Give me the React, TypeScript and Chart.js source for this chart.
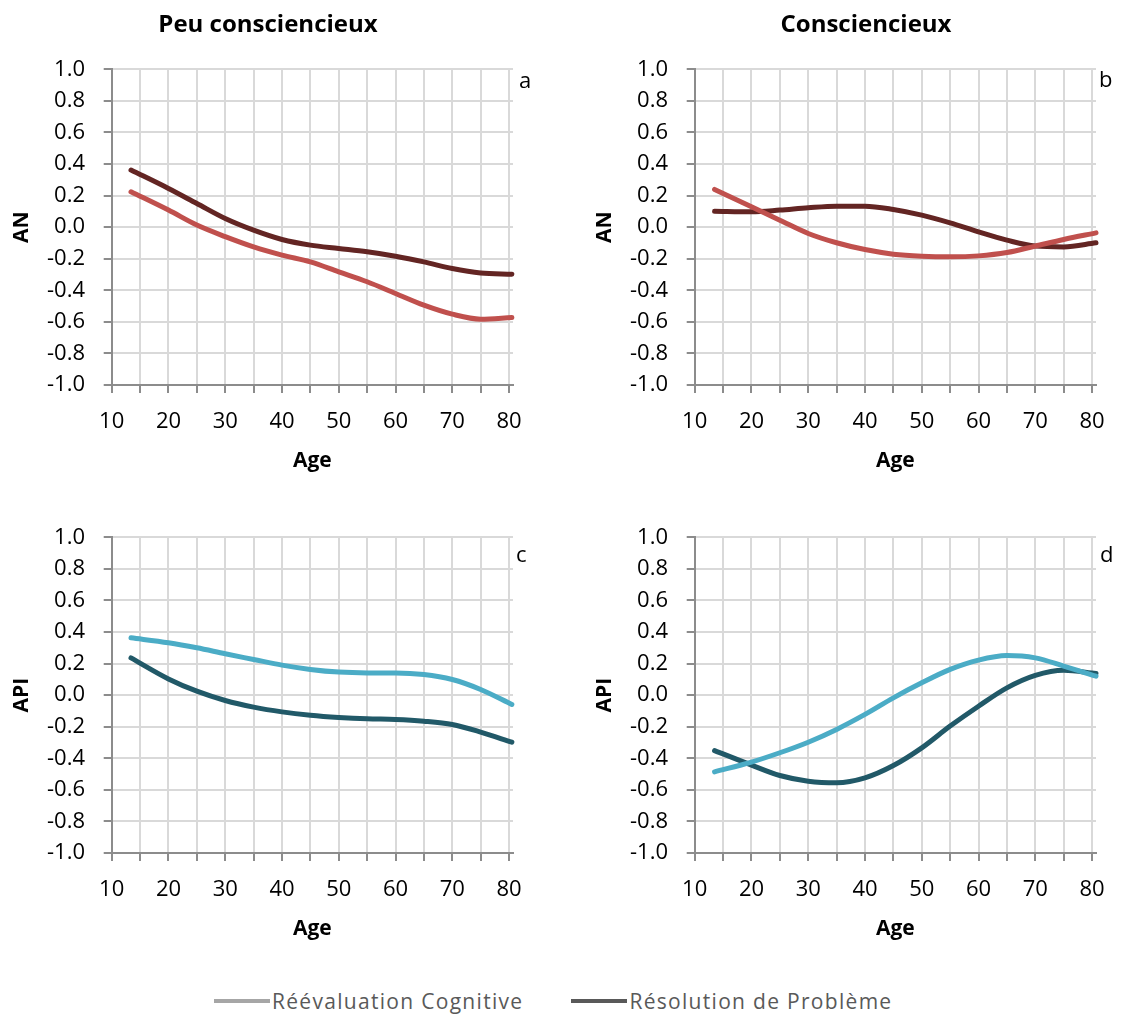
import React, { useEffect, useRef } from 'react';
import { Chart, registerables } from 'chart.js';

Chart.register(...registerables);

// ---------- data ----------
const agesLeft = [13.4, 20, 25, 30, 35, 40, 45, 50, 55, 60, 65, 70, 75, 80.5];
const agesRight = [13.5, 20, 25, 30, 35, 40, 45, 50, 55, 60, 65, 70, 75, 80.7];

const anPeuReeval = [0.224, 0.108, 0.013, -0.06, -0.125, -0.177, -0.22, -0.283, -0.346, -0.42, -0.494, -0.551, -0.583, -0.572];
const anPeuResol = [0.362, 0.245, 0.15, 0.055, -0.019, -0.078, -0.114, -0.135, -0.156, -0.184, -0.22, -0.262, -0.29, -0.298];
const anConsReeval = [0.239, 0.129, 0.044, -0.04, -0.099, -0.142, -0.171, -0.184, -0.188, -0.182, -0.161, -0.12, -0.078, -0.036];
const anConsResol = [0.101, 0.097, 0.108, 0.123, 0.133, 0.133, 0.112, 0.076, 0.027, -0.03, -0.082, -0.12, -0.125, -0.099];
const apiPeuReeval = [0.363, 0.332, 0.3, 0.262, 0.226, 0.19, 0.163, 0.146, 0.141, 0.141, 0.131, 0.099, 0.036, -0.059];
const apiPeuResol = [0.236, 0.103, 0.025, -0.034, -0.076, -0.106, -0.127, -0.141, -0.15, -0.154, -0.165, -0.186, -0.234, -0.298];
const apiConsReeval = [-0.486, -0.424, -0.365, -0.298, -0.217, -0.122, -0.017, 0.078, 0.163, 0.222, 0.251, 0.236, 0.184, 0.12];
const apiConsResol = [-0.351, -0.443, -0.509, -0.545, -0.555, -0.524, -0.446, -0.334, -0.196, -0.07, 0.046, 0.125, 0.158, 0.137];

const seriesNames = ['Réévaluation Cognitive', 'Résolution de Problème'];
const columnTitles = ['Peu consciencieux', 'Consciencieux'];
const panelLetters = ['a', 'b', 'c', 'd'];
const xTitle = 'Age';
const yTitles = ['AN', 'API'];

// ---------- styles ----------
const FONT = "'Open Sans', 'Noto Sans', sans-serif";
const GRID = '#d9d9d9';
const AXIS = '#8c8c8c';
const RED_LIGHT = '#c0504d';
const RED_DARK = '#632523';
const BLUE_LIGHT = '#4bacc6';
const BLUE_DARK = '#215968';

Chart.defaults.font.family = FONT;

type PanelProps = {
  left: number;
  top: number;
  yTitle: string;
  xs: number[];
  s1: number[];
  s2: number[];
  c1: string;
  c2: string;
  xMax: number;
};

function Panel({ left, top, yTitle, xs, s1, s2, c1, c2, xMax }: PanelProps) {
  const ref = useRef<HTMLCanvasElement>(null);
  useEffect(() => {
    const chart = new Chart(ref.current as HTMLCanvasElement, {
      type: 'line',
      data: {
        datasets: [
          {
            label: seriesNames[0],
            data: xs.map((x, i) => ({ x, y: s1[i] })),
            borderColor: c1,
            backgroundColor: c1,
            borderWidth: 5,
            pointRadius: 0,
            cubicInterpolationMode: 'monotone',
            borderCapStyle: 'round',
            clip: false,
          },
          {
            label: seriesNames[1],
            data: xs.map((x, i) => ({ x, y: s2[i] })),
            borderColor: c2,
            backgroundColor: c2,
            borderWidth: 5,
            pointRadius: 0,
            cubicInterpolationMode: 'monotone',
            borderCapStyle: 'round',
            clip: false,
          },
        ],
      },
      options: {
        responsive: false,
        animation: false,
        devicePixelRatio: 1,
        layout: { padding: { left: 9, top: 69.3, right: 27, bottom: 6 } },
        plugins: { legend: { display: false }, tooltip: { enabled: false } },
        scales: {
          x: {
            type: 'linear',
            min: 10,
            max: xMax,
            afterFit: (s: any) => {
              s.height = 89;
            },
            ticks: {
              stepSize: 5,
              includeBounds: false,
              autoSkip: false,
              maxRotation: 0,
              padding: 15.4,
              color: '#000',
              font: { size: 22 },
              callback: (v: any) => (Math.round(v) % 10 === 0 ? String(Math.round(v)) : ''),
            },
            grid: {
              color: (ctx: any) => (ctx.tick && Math.abs(ctx.tick.value - 10) < 1e-6 ? AXIS : GRID),
              lineWidth: 2,
              tickColor: AXIS,
              tickWidth: 2,
              tickLength: 8,
            },
            border: { color: AXIS, width: 2 },
            title: {
              display: true,
              text: xTitle,
              color: '#000',
              font: { size: 21, weight: 'bold' },
              padding: { top: 0, bottom: 0 },
            },
          },
          y: {
            type: 'linear',
            min: -1,
            max: 1,
            afterFit: (s: any) => {
              s.width = 102.7;
            },
            ticks: {
              stepSize: 0.2,
              padding: 18.7,
              color: '#000',
              font: { size: 22 },
              callback: (v: any) => (Math.abs(v) < 1e-9 ? '0.0' : Number(v).toFixed(1)),
            },
            grid: {
              color: (ctx: any) => (ctx.tick && Math.abs(ctx.tick.value + 1) < 1e-6 ? AXIS : GRID),
              lineWidth: 2,
              tickColor: AXIS,
              tickWidth: 2,
              tickLength: 8,
            },
            border: { color: AXIS, width: 2 },
            title: {
              display: true,
              text: yTitle,
              color: '#000',
              font: { size: 21, weight: 'bold' },
              padding: { top: 0, bottom: 0 },
            },
          },
        },
      } as any,
    });
    return () => chart.destroy();
  }, []);
  return (
    <canvas
      ref={ref}
      width={540}
      height={480}
      style={{ position: 'absolute', left, top, width: 540, height: 480 }}
    />
  );
}

const textBase: React.CSSProperties = {
  position: 'absolute',
  fontFamily: FONT,
  whiteSpace: 'nowrap',
  lineHeight: 1,
  color: '#000',
};

export default function App() {
  return (
    <div
      style={{
        position: 'absolute',
        left: 0,
        top: 0,
        width: 1124,
        height: 1014,
        overflow: 'hidden',
        background: '#fff',
      }}
    >
      <Panel left={0} top={0} yTitle={yTitles[0]} xs={agesLeft} s1={anPeuReeval} s2={anPeuResol} c1={RED_LIGHT} c2={RED_DARK} xMax={80.7} />
      <Panel left={583} top={0} yTitle={yTitles[0]} xs={agesRight} s1={anConsReeval} s2={anConsResol} c1={RED_LIGHT} c2={RED_DARK} xMax={80.7} />
      <Panel left={0} top={468} yTitle={yTitles[1]} xs={agesLeft} s1={apiPeuReeval} s2={apiPeuResol} c1={BLUE_LIGHT} c2={BLUE_DARK} xMax={80.7} />
      <Panel left={583} top={468} yTitle={yTitles[1]} xs={agesRight} s1={apiConsReeval} s2={apiConsResol} c1={BLUE_LIGHT} c2={BLUE_DARK} xMax={80.7} />

      <div style={{ ...textBase, left: 268, top: 23, transform: 'translate(-50%, -50%)', fontSize: 24, fontWeight: 700 }}>
        {columnTitles[0]}
      </div>
      <div style={{ ...textBase, left: 866, top: 23, transform: 'translate(-50%, -50%)', fontSize: 24, fontWeight: 700 }}>
        {columnTitles[1]}
      </div>

      <div style={{ ...textBase, left: 519, top: 79, transform: 'translateY(-50%)', fontSize: 22 }}>{panelLetters[0]}</div>
      <div style={{ ...textBase, left: 1099, top: 78, transform: 'translateY(-50%)', fontSize: 22 }}>{panelLetters[1]}</div>
      <div style={{ ...textBase, left: 516, top: 553, transform: 'translateY(-50%)', fontSize: 22 }}>{panelLetters[2]}</div>
      <div style={{ ...textBase, left: 1100, top: 553, transform: 'translateY(-50%)', fontSize: 22 }}>{panelLetters[3]}</div>

      <div
        style={{
          position: 'absolute',
          left: 214,
          top: 988,
          height: 26,
          display: 'flex',
          alignItems: 'center',
          fontFamily: FONT,
          fontSize: 21,
          letterSpacing: 1.3,
          color: '#595959',
          whiteSpace: 'nowrap',
        }}
      >
        <div style={{ width: 56, height: 4, background: '#a6a6a6' }} />
        <span style={{ marginLeft: 2 }}>{seriesNames[0]}</span>
        <div style={{ width: 56, height: 4, background: '#595959', marginLeft: 48 }} />
        <span style={{ marginLeft: 2 }}>{seriesNames[1]}</span>
      </div>
    </div>
  );
}
